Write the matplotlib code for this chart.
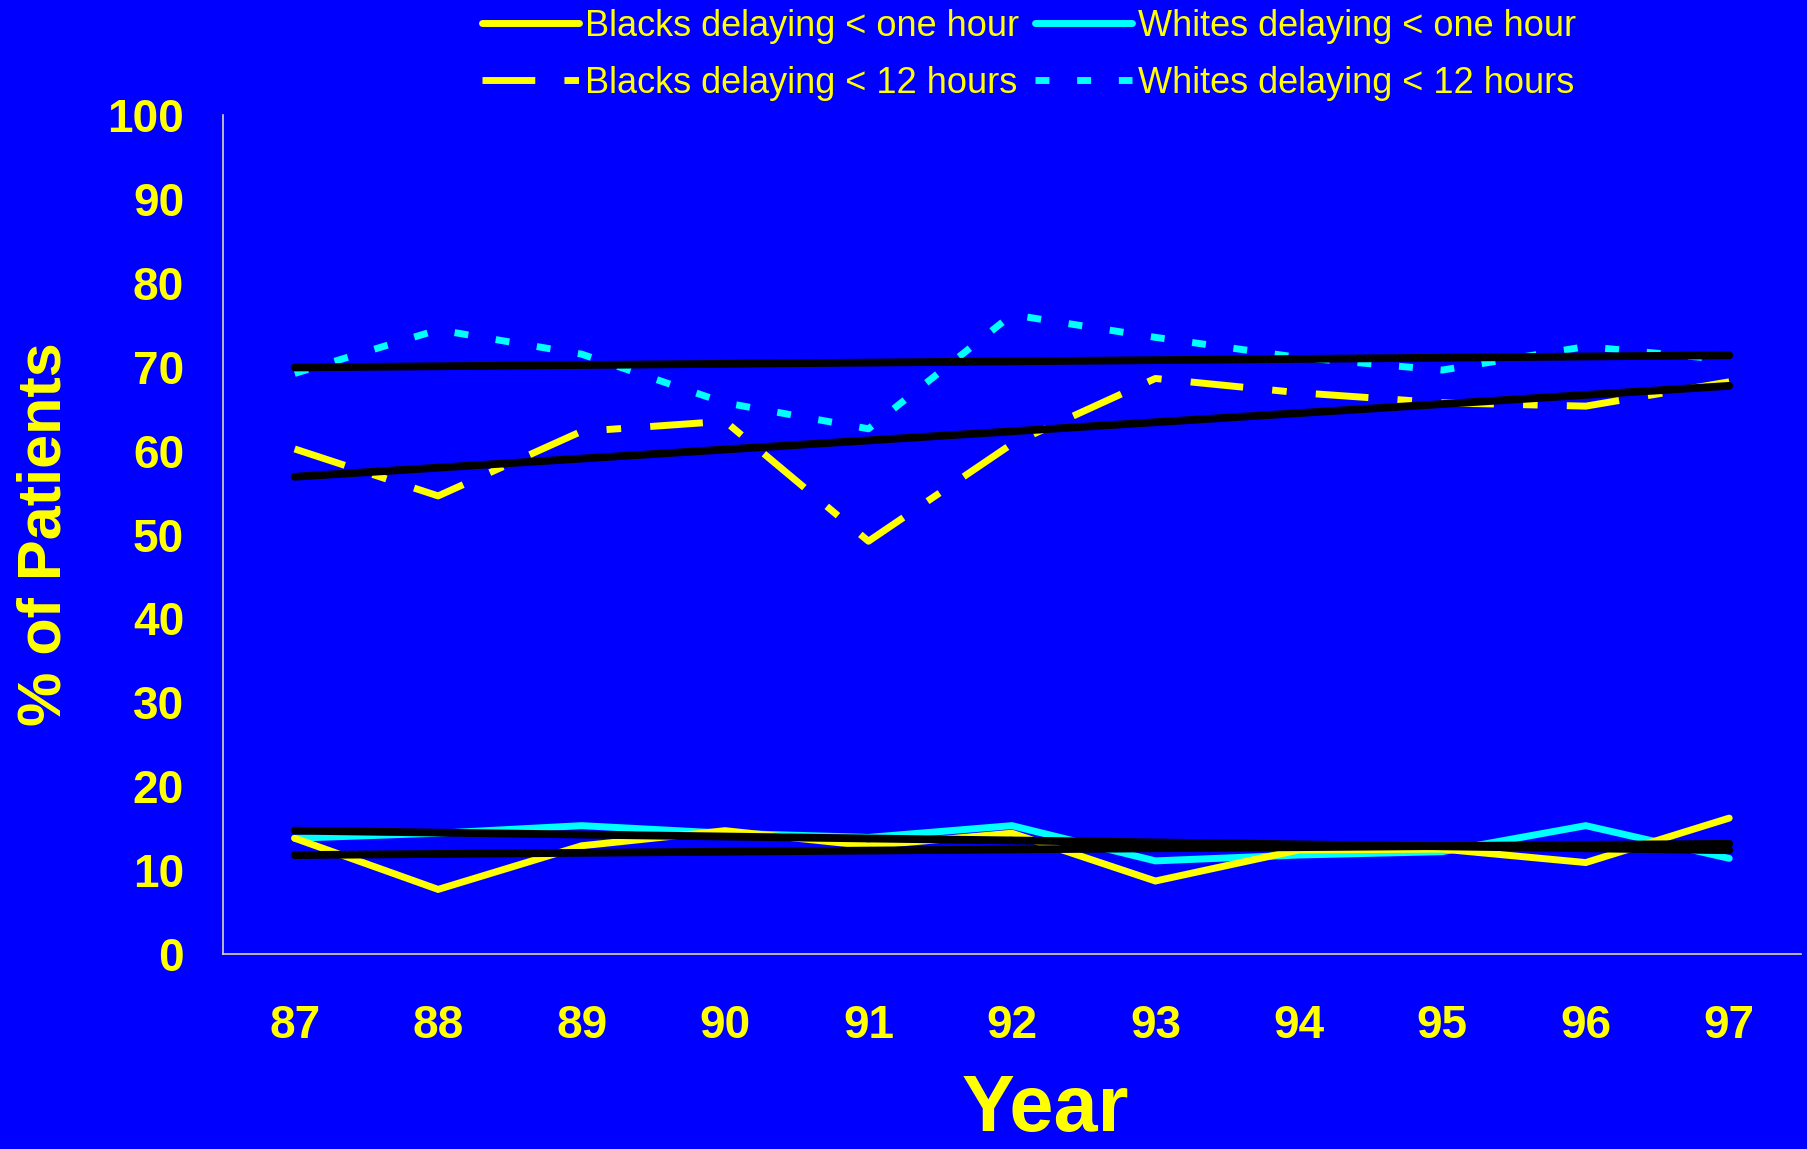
import matplotlib
matplotlib.use("Agg")
import matplotlib.pyplot as plt
import numpy as np

plt.rcParams['font.family'] = ['Liberation Sans', 'DejaVu Sans']

years = ['87', '88', '89', '90', '91', '92', '93', '94', '95', '96', '97']
blacks_1h = [13.8, 7.7, 12.9, 14.7, 12.9, 14.4, 8.7, 12.4, 12.5, 10.9, 16.2]
whites_1h = [13.8, 14.4, 15.3, 14.4, 13.9, 15.3, 11.1, 11.8, 12.2, 15.3, 11.4]
blacks_12h = [60.2, 54.6, 62.3, 63.5, 49.2, 60.8, 68.6, 66.9, 65.7, 65.3, 68.2]
whites_12h = [69.2, 74.4, 71.5, 65.7, 62.6, 76.2, 73.5, 71.1, 69.6, 72.4, 70.8]

BG = '#0000ff'
YEL = '#ffff00'
CYAN = '#00ffff'

fig = plt.figure(figsize=(18.08, 11.49), dpi=100, facecolor=BG)
ax = fig.add_axes([0.1233, 0.1697, 0.8728, 0.7302], facecolor=BG)

x = np.arange(len(years))
lw = 5.0

ax.plot(x, whites_1h, color=CYAN, lw=lw, solid_capstyle='round',
        solid_joinstyle='miter', label='Whites delaying < one hour')
ax.plot(x, blacks_1h, color=YEL, lw=lw, solid_capstyle='round',
        solid_joinstyle='miter', label='Blacks delaying < one hour')
ax.plot(x, blacks_12h, color=YEL, lw=lw, linestyle=(0, (7.6, 4.2, 2.1, 4.2)),
        dash_capstyle='butt', label='Blacks delaying < 12 hours')
ax.plot(x, whites_12h, color=CYAN, lw=lw, linestyle=(0, (2.0, 4.0)),
        dash_capstyle='butt', label='Whites delaying < 12 hours')

# linear trend for each series
for series in [blacks_1h, whites_1h, blacks_12h, whites_12h]:
    slope, icept = np.polyfit(x, series, 1)
    ax.plot(x, slope * x + icept, color='black', lw=5.6,
            solid_capstyle='round', zorder=5)

ax.set_xlim(-0.5, len(years) - 0.5)
ax.set_ylim(0, 100)
ax.set_yticks(range(0, 101, 10))
ax.set_xticks(x)
ax.set_xticklabels(years)

for side in ['top', 'right']:
    ax.spines[side].set_visible(False)
for side in ['left', 'bottom']:
    ax.spines[side].set_color('#d8d8b0')
    ax.spines[side].set_linewidth(1.2)

ax.tick_params(axis='both', length=0, colors=YEL, labelsize=33)
ax.tick_params(axis='y', pad=28)
ax.tick_params(axis='x', pad=36)
for lab in ax.get_xticklabels() + ax.get_yticklabels():
    lab.set_fontweight('bold')

ax.set_ylabel('% of Patients', color=YEL, fontsize=44, fontweight='bold')
ax.yaxis.set_label_coords(-0.095, 0.5)
fig.text(0.578, 0.016, 'Year', color=YEL, fontsize=57, fontweight='bold',
         ha='center', va='baseline')

handles, labels = ax.get_legend_handles_labels()
order = [1, 2, 0, 3]
leg = fig.legend([handles[i] for i in order], [labels[i] for i in order],
                 loc='upper center', bbox_to_anchor=(0.569, 1.011), ncol=2,
                 frameon=False, fontsize=26, handlelength=2.7,
                 handletextpad=0.15, columnspacing=0.45, labelspacing=0.6,
                 borderpad=0.1)
for t in leg.get_texts():
    t.set_color(YEL)

fig.savefig('out.png', dpi=100, facecolor=BG)
